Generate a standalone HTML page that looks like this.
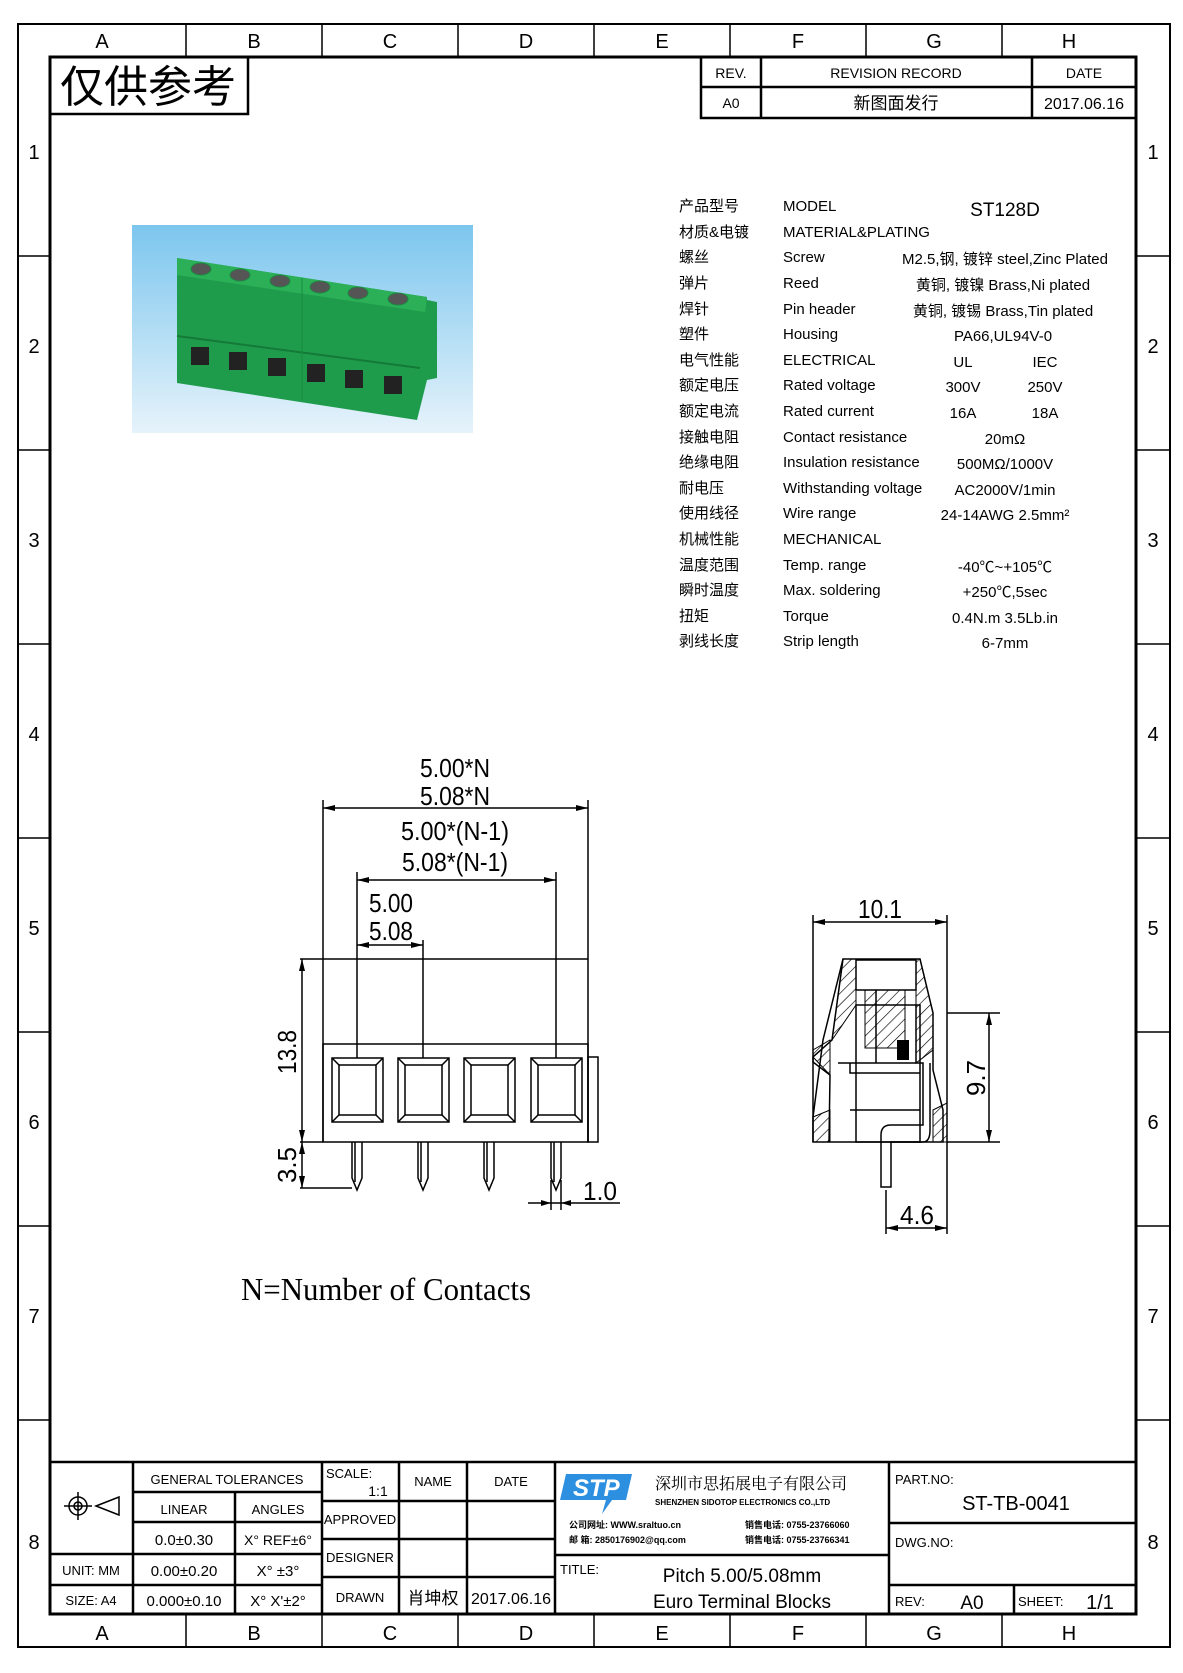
<!DOCTYPE html>
<html><head><meta charset="utf-8"><style>
html,body{margin:0;padding:0;background:#fff}
svg{display:block}
text{font-family:"Liberation Sans","Noto Sans CJK SC",sans-serif;fill:#000}
.s{font-family:"Liberation Serif","Noto Serif CJK SC",serif}
</style></head><body>
<svg width="1183" height="1673" viewBox="0 0 1183 1673" xmlns="http://www.w3.org/2000/svg">
<defs>
<linearGradient id="bg" x1="0" y1="0" x2="0" y2="1"><stop offset="0" stop-color="#7cc6ee"/><stop offset="1" stop-color="#e6f3fb"/></linearGradient>
<pattern id="h" width="8" height="8" patternUnits="userSpaceOnUse" patternTransform="rotate(45)"><line x1="0" y1="0" x2="0" y2="8" stroke="#000" stroke-width="1.3"/></pattern>
</defs>
<g fill="none" stroke="#000">
<rect x="18" y="24" width="1152" height="1623" stroke-width="2"/>
<rect x="50" y="57" width="1086" height="1557" stroke-width="3"/>
<g stroke-width="1.5">
<path d="M186 24V57M322 24V57M458 24V57M594 24V57M730 24V57M866 24V57M1002 24V57"/>
<path d="M186 1614V1647M322 1614V1647M458 1614V1647M594 1614V1647M730 1614V1647M866 1614V1647M1002 1614V1647"/>
<path d="M18 256H50M18 450H50M18 644H50M18 838H50M18 1032H50M18 1226H50M18 1420H50"/>
<path d="M1136 256H1170M1136 450H1170M1136 644H1170M1136 838H1170M1136 1032H1170M1136 1226H1170M1136 1420H1170"/>
</g>
<rect x="50" y="57" width="198" height="57" stroke-width="2.5"/>
<g stroke-width="2.5"><path d="M701 57V118H1136M701 87H1136M761 57V118M1032 57V118"/></g>
<g stroke-width="2.5">
<path d="M50 1462H1136"/>
<path d="M133 1462V1614M322 1462V1614M399 1462V1614M467 1462V1614M555 1462V1614M889 1462V1614"/>
<path d="M133 1492H322M133 1522H322M50 1554H322M50 1585H322M235 1492V1614"/>
<path d="M322 1501H555M322 1539H555M322 1577H555"/>
<path d="M555 1555H889M889 1523H1136M889 1585H1136M1014 1585V1614"/>
</g>
</g>
<g font-size="20" text-anchor="middle">
<text x="102" y="48">A</text><text x="254" y="48">B</text><text x="390" y="48">C</text><text x="526" y="48">D</text><text x="662" y="48">E</text><text x="798" y="48">F</text><text x="934" y="48">G</text><text x="1069" y="48">H</text>
<text x="102" y="1640">A</text><text x="254" y="1640">B</text><text x="390" y="1640">C</text><text x="526" y="1640">D</text><text x="662" y="1640">E</text><text x="798" y="1640">F</text><text x="934" y="1640">G</text><text x="1069" y="1640">H</text>
<text x="34" y="159">1</text><text x="34" y="353">2</text><text x="34" y="547">3</text><text x="34" y="741">4</text><text x="34" y="935">5</text><text x="34" y="1129">6</text><text x="34" y="1323">7</text><text x="34" y="1549">8</text>
<text x="1153" y="159">1</text><text x="1153" y="353">2</text><text x="1153" y="547">3</text><text x="1153" y="741">4</text><text x="1153" y="935">5</text><text x="1153" y="1129">6</text><text x="1153" y="1323">7</text><text x="1153" y="1549">8</text>
</g>
<text x="60" y="102" font-size="44" textLength="176" lengthAdjust="spacingAndGlyphs">仅供参考</text>
<g font-size="14" text-anchor="middle" class="s">
<text x="731" y="78">REV.</text><text x="896" y="78">REVISION RECORD</text><text x="1084" y="78">DATE</text>
<text x="731" y="108">A0</text><text x="896" y="109" font-size="17">新图面发行</text><text x="1084" y="109" font-size="16">2017.06.16</text>
</g>
<rect x="132" y="225" width="341" height="208" fill="url(#bg)"/>
<polygon points="177,258 427,297 427,300 437,302 437,378 427,380 417,420 177,383" fill="#1f9c4b"/>
<polygon points="177,258 427,297 425,312 177,275" fill="#2bb058"/>
<line x1="177" y1="336" x2="420" y2="368" stroke="#137a38" stroke-width="2"/>
<line x1="302" y1="278" x2="302" y2="400" stroke="#178a40" stroke-width="1"/>
<g fill="#555" stroke="#1c8a42">
<ellipse cx="201" cy="269" rx="10" ry="6"/><ellipse cx="240" cy="275" rx="10" ry="6"/><ellipse cx="280" cy="281" rx="10" ry="6"/><ellipse cx="320" cy="287" rx="10" ry="6"/><ellipse cx="358" cy="293" rx="10" ry="6"/><ellipse cx="398" cy="299" rx="10" ry="6"/>
</g>
<g fill="#222"><rect x="191" y="347" width="18" height="18"/><rect x="229" y="352" width="18" height="18"/><rect x="268" y="358" width="18" height="18"/><rect x="307" y="364" width="18" height="18"/><rect x="345" y="370" width="18" height="18"/><rect x="384" y="376" width="18" height="18"/></g>
<g font-size="15" class="s">
<g>
<text x="679" y="211">产品型号</text><text x="679" y="237">材质&amp;电镀</text><text x="679" y="262">螺丝</text><text x="679" y="288">弹片</text><text x="679" y="314">焊针</text><text x="679" y="339">塑件</text><text x="679" y="365">电气性能</text><text x="679" y="390">额定电压</text><text x="679" y="416">额定电流</text><text x="679" y="442">接触电阻</text><text x="679" y="467">绝缘电阻</text><text x="679" y="493">耐电压</text><text x="679" y="518">使用线径</text><text x="679" y="544">机械性能</text><text x="679" y="570">温度范围</text><text x="679" y="595">瞬时温度</text><text x="679" y="621">扭矩</text><text x="679" y="646">剥线长度</text>
</g>
<g>
<text x="783" y="211">MODEL</text><text x="783" y="237">MATERIAL&amp;PLATING</text><text x="783" y="262">Screw</text><text x="783" y="288">Reed</text><text x="783" y="314">Pin header</text><text x="783" y="339">Housing</text><text x="783" y="365">ELECTRICAL</text><text x="783" y="390">Rated voltage</text><text x="783" y="416">Rated current</text><text x="783" y="442">Contact resistance</text><text x="783" y="467">Insulation resistance</text><text x="783" y="493">Withstanding voltage</text><text x="783" y="518">Wire range</text><text x="783" y="544">MECHANICAL</text><text x="783" y="570">Temp. range</text><text x="783" y="595">Max. soldering</text><text x="783" y="621">Torque</text><text x="783" y="646">Strip length</text>
</g>
<g text-anchor="middle">
<text x="1005" y="216" font-size="19">ST128D</text>
<text x="1005" y="264">M2.5,钢, 镀锌 steel,Zinc Plated</text>
<text x="1003" y="290">黄铜, 镀镍 Brass,Ni plated</text>
<text x="1003" y="316">黄铜, 镀锡 Brass,Tin plated</text>
<text x="1003" y="341">PA66,UL94V-0</text>
<text x="963" y="367">UL</text><text x="1045" y="367">IEC</text>
<text x="963" y="392">300V</text><text x="1045" y="392">250V</text>
<text x="963" y="418">16A</text><text x="1045" y="418">18A</text>
<text x="1005" y="444">20mΩ</text>
<text x="1005" y="469">500MΩ/1000V</text>
<text x="1005" y="495">AC2000V/1min</text>
<text x="1005" y="520">24-14AWG 2.5mm²</text>
<text x="1005" y="572">-40℃~+105℃</text>
<text x="1005" y="597">+250℃,5sec</text>
<text x="1005" y="623">0.4N.m  3.5Lb.in</text>
<text x="1005" y="648">6-7mm</text>
</g>
</g>
<g fill="none" stroke="#000" stroke-width="1.5">
<path d="M323 800V1142M588 800V1142"/>
<path d="M323 808H588"/>
<path d="M357 872V1058M556 872V1058M423 940V1058"/>
<path d="M357 880H556M357 945H423"/>
<path d="M300 959H588"/>
<rect x="323" y="1044" width="265" height="98"/>
<rect x="588" y="1057" width="10" height="85"/>
<path d="M300 1142H323M300 1188H352"/>
<path d="M302 959V1188"/>
<g id="sq"><rect x="332" y="1058" width="51" height="64"/><rect x="339" y="1065" width="37" height="50"/><path d="M332 1058L339 1065M383 1058L376 1065M332 1122L339 1115M383 1122L376 1115"/></g>
<use href="#sq" x="66"/><use href="#sq" x="132"/><use href="#sq" x="199"/>
<g id="pin"><path d="M352 1142V1178L357 1190L362 1178V1142M355 1142V1182"/></g>
<use href="#pin" x="66"/><use href="#pin" x="132"/><use href="#pin" x="199"/>
<path d="M528 1203H620M551 1180V1210M561 1180V1210"/>
</g>
<g fill="#000">
<path d="M323 808l12-3v6zM588 808l-12-3v6zM357 880l12-3v6zM556 880l-12-3v6zM357 945l12-3v6zM423 945l-12-3v6zM302 959l-3 12h6zM302 1142l-3-12h6zM302 1142l-3 12h6zM302 1188l-3-12h6zM551 1203l-10-3v6zM561 1203l10-3v6z"/>
</g>
<g class="s" font-size="26" text-anchor="middle">
<text x="455" y="777" textLength="70" lengthAdjust="spacingAndGlyphs">5.00*N</text>
<text x="455" y="805" textLength="70" lengthAdjust="spacingAndGlyphs">5.08*N</text>
<text x="455" y="840" textLength="108" lengthAdjust="spacingAndGlyphs">5.00*(N-1)</text>
<text x="455" y="871" textLength="106" lengthAdjust="spacingAndGlyphs">5.08*(N-1)</text>
<text x="391" y="912" textLength="44" lengthAdjust="spacingAndGlyphs">5.00</text>
<text x="391" y="940" textLength="44" lengthAdjust="spacingAndGlyphs">5.08</text>
<text x="600" y="1200" textLength="34" lengthAdjust="spacingAndGlyphs">1.0</text>
<text transform="translate(296 1052) rotate(-90)" textLength="44" lengthAdjust="spacingAndGlyphs">13.8</text>
<text transform="translate(296 1165) rotate(-90)" textLength="36" lengthAdjust="spacingAndGlyphs">3.5</text>
<text x="880" y="918" textLength="44" lengthAdjust="spacingAndGlyphs">10.1</text>
<text transform="translate(985 1078) rotate(-90)" textLength="36" lengthAdjust="spacingAndGlyphs">9.7</text>
<text x="917" y="1224" textLength="34" lengthAdjust="spacingAndGlyphs">4.6</text>
</g>
<text x="241" y="1300" font-size="32" class="s" textLength="290" lengthAdjust="spacingAndGlyphs">N=Number of Contacts</text>
<g fill="none" stroke="#000" stroke-width="1.5">
<path d="M813 915V1142M947 915V1142M813 922H947"/>
<path d="M886 1190V1234M886 1228H947M947 1142V1234"/>
<path d="M947 1013H1000M947 1142H1000M989 1013V1142"/>
<path d="M843 959H920L933 1013V1070L943 1110V1142H813V1117L823 1040L843 959Z"/>
<path d="M843 959L832 1040L813 1057V1062L830 1075L829 1142"/>
<rect x="856" y="1005" width="64" height="137"/>
<rect x="856" y="960" width="60" height="30"/>
<path d="M876 990V1063M916 1005V1063"/>
<path d="M838 1063H923V1125H891Q881 1125 881 1135V1187H891V1142H923Q930 1142 930 1130V1063"/>
<path d="M850 1063V1073H920M850 1110H920"/>
</g>
<path d="M843 959H856V1005L832 1040L843 959Z" fill="url(#h)" stroke="#000"/>
<path d="M916 959H920L933 1013V1050L916 1063V959Z" fill="url(#h)" stroke="#000"/>
<path d="M813 1057L830 1075V1040L813 1050Z" fill="url(#h)" stroke="#000"/>
<path d="M813 1117L830 1110V1142H813Z" fill="url(#h)" stroke="#000"/>
<path d="M933 1110L947 1103V1142H933Z" fill="url(#h)" stroke="#000"/>
<rect x="865" y="990" width="40" height="58" fill="url(#h)" stroke="#000"/>
<rect x="897" y="1040" width="12" height="20" fill="#000"/>
<g fill="#000"><path d="M813 922l12-3v6zM947 922l-12-3v6zM989 1013l-3 12h6zM989 1142l-3-12h6zM886 1228l12-3v6zM947 1228l-12-3v6z"/></g>
<g fill="none" stroke="#000" stroke-width="1.5">
<circle cx="78" cy="1506" r="9"/><circle cx="78" cy="1506" r="4"/><path d="M64 1506H92M78 1492V1520M96 1506L119 1497V1515Z"/>
</g>
<g class="s" font-size="13" text-anchor="middle">
<text x="227" y="1484">GENERAL TOLERANCES</text>
<text x="184" y="1514">LINEAR</text><text x="278" y="1514">ANGLES</text>
<text x="184" y="1545" font-size="15">0.0±0.30</text><text x="278" y="1545" font-size="14">X° REF±6°</text>
<text x="91" y="1575">UNIT: MM</text><text x="184" y="1576" font-size="15">0.00±0.20</text><text x="278" y="1576" font-size="15">X° ±3°</text>
<text x="91" y="1605">SIZE: A4</text><text x="184" y="1606" font-size="15">0.000±0.10</text><text x="278" y="1606" font-size="15">X° X'±2°</text>
<text x="326" y="1478" text-anchor="start">SCALE:</text><text x="378" y="1496" font-size="14">1:1</text>
<text x="433" y="1486">NAME</text><text x="511" y="1486">DATE</text>
<text x="360" y="1524">APPROVED</text><text x="360" y="1562">DESIGNER</text><text x="360" y="1602">DRAWN</text>
<text x="433" y="1604" font-size="17">肖坤权</text><text x="511" y="1604" font-size="16">2017.06.16</text>
<text x="560" y="1574" text-anchor="start">TITLE:</text>
<text x="742" y="1582" font-size="19">Pitch 5.00/5.08mm</text>
<text x="742" y="1608" font-size="19">Euro Terminal Blocks</text>
<text x="895" y="1484" text-anchor="start">PART.NO:</text>
<text x="1016" y="1510" font-size="20">ST-TB-0041</text>
<text x="895" y="1547" text-anchor="start">DWG.NO:</text>
<text x="895" y="1606" text-anchor="start">REV:</text><text x="972" y="1609" font-size="19">A0</text>
<text x="1018" y="1606" text-anchor="start">SHEET:</text><text x="1100" y="1609" font-size="20">1/1</text>
</g>
<g>
<path d="M566 1474H632L626 1500H612L602 1514L606 1500H560Z" fill="#2d8fe0"/>
<text x="573" y="1496" font-size="24" font-weight="bold" font-style="italic" style="fill:#fff">STP</text>
<text x="655" y="1489" font-size="16" class="s">深圳市思拓展电子有限公司</text>
<text x="655" y="1505" font-size="8" font-weight="bold">SHENZHEN SIDOTOP ELECTRONICS CO.,LTD</text>
<text x="569" y="1528" font-size="9" font-weight="bold">公司网址: WWW.sraltuo.cn</text>
<text x="745" y="1528" font-size="9" font-weight="bold">销售电话: 0755-23766060</text>
<text x="569" y="1543" font-size="9" font-weight="bold">邮   箱: 2850176902@qq.com</text>
<text x="745" y="1543" font-size="9" font-weight="bold">销售电话: 0755-23766341</text>
</g>
</svg>
</body></html>
